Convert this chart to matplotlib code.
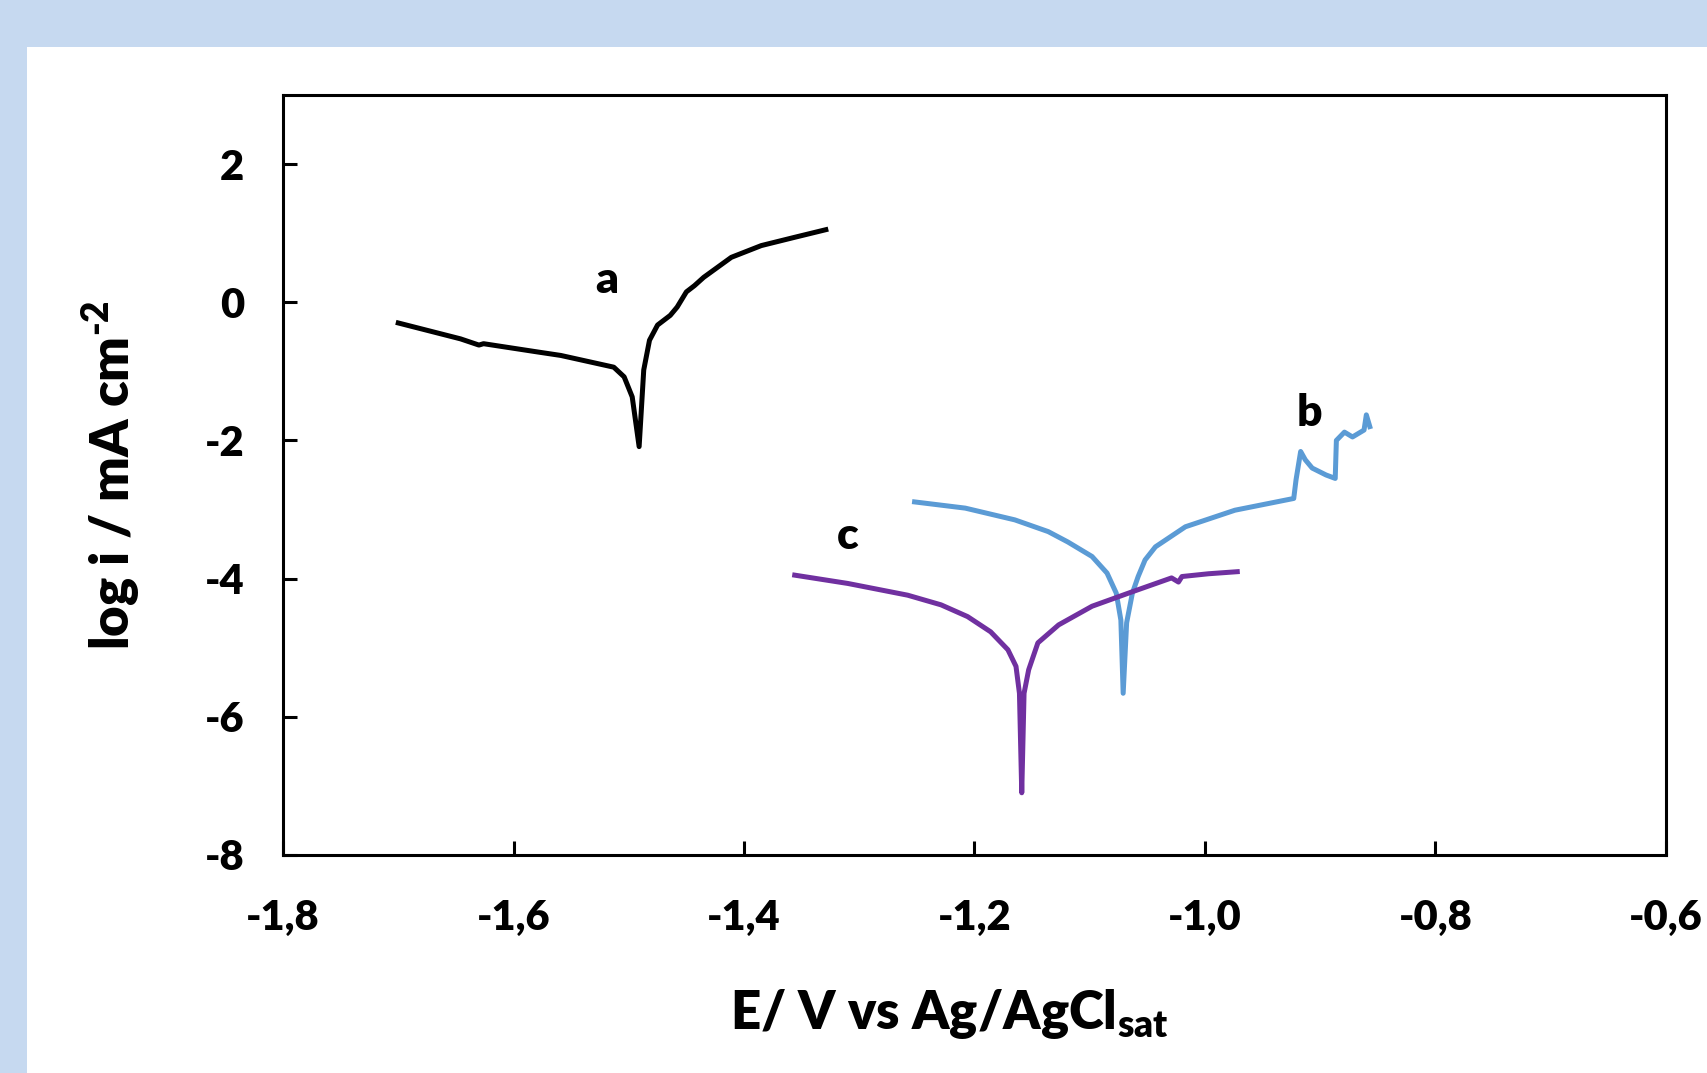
import matplotlib
matplotlib.use("Agg")
import matplotlib.pyplot as plt
from matplotlib.patches import Rectangle

plt.rcParams['font.family'] = ['Lato', 'DejaVu Sans']
plt.rcParams['font.weight'] = 'heavy'
plt.rcParams['axes.labelweight'] = 'heavy'
plt.rcParams['mathtext.fontset'] = 'custom'
plt.rcParams['mathtext.rm'] = 'Lato:heavy'
plt.rcParams['mathtext.bf'] = 'Lato:heavy'
plt.rcParams['mathtext.default'] = 'rm'

# curve a (black)
e_a = [-1.700, -1.646, -1.630, -1.626, -1.579, -1.559, -1.513, -1.504, -1.497,
       -1.491, -1.487, -1.482, -1.475, -1.464, -1.458, -1.450, -1.443, -1.435,
       -1.411, -1.385, -1.356, -1.329]
logi_a = [-0.30, -0.53, -0.62, -0.60, -0.72, -0.77, -0.94, -1.08, -1.37,
          -2.09, -0.98, -0.55, -0.33, -0.19, -0.07, 0.15, 0.24, 0.36,
          0.65, 0.82, 0.94, 1.05]

# curve b (blue)
e_b = [-1.252, -1.208, -1.165, -1.136, -1.119, -1.098, -1.085, -1.077, -1.073,
       -1.071, -1.068, -1.063, -1.058, -1.052, -1.043, -1.017, -0.974, -0.923,
       -0.921, -0.917, -0.913, -0.907, -0.895, -0.887, -0.886, -0.879, -0.872,
       -0.867, -0.862, -0.860, -0.857]
logi_b = [-2.89, -2.98, -3.15, -3.32, -3.47, -3.68, -3.92, -4.21, -4.60,
          -5.66, -4.64, -4.21, -3.97, -3.73, -3.54, -3.25, -3.01, -2.84,
          -2.57, -2.16, -2.28, -2.40, -2.50, -2.55, -2.00, -1.88, -1.95,
          -1.90, -1.85, -1.63, -1.80]

# curve c (purple)
e_c = [-1.356, -1.310, -1.258, -1.229, -1.206, -1.186, -1.171, -1.164, -1.161,
       -1.159, -1.157, -1.153, -1.145, -1.127, -1.098, -1.063, -1.029, -1.023,
       -1.020, -0.997, -0.972]
logi_c = [-3.95, -4.07, -4.24, -4.38, -4.55, -4.77, -5.03, -5.27, -5.66,
          -7.10, -5.66, -5.32, -4.93, -4.67, -4.40, -4.19, -3.99, -4.05,
          -3.97, -3.93, -3.90]

xticks = [-1.8, -1.6, -1.4, -1.2, -1.0, -0.8, -0.6]
xtick_labels = ['-1,8', '-1,6', '-1,4', '-1,2', '-1,0', '-0,8', '-0,6']
yticks = [2, 0, -2, -4, -6, -8]
ytick_labels = ['2', '0', '-2', '-4', '-6', '-8']

fig = plt.figure(figsize=(17.08, 10.73), dpi=100, facecolor='#C6D9F0')
fig.patches.append(Rectangle((27 / 1708, 0), 1, 1 - 47 / 1073,
                             transform=fig.transFigure, facecolor='white',
                             edgecolor='none', zorder=-10))

ax = fig.add_axes([0.1657, 0.2032, 0.8097, 0.7083], zorder=5)
ax.plot(e_a, logi_a, color='black', lw=3.6, solid_joinstyle='round')
ax.plot(e_b, logi_b, color='#5B9BD5', lw=3.6, solid_joinstyle='round')
ax.plot(e_c, logi_c, color='#7030A0', lw=3.6, solid_joinstyle='round')

ax.text(-1.519, 0.32, 'a', fontsize=32, ha='center', va='center')
ax.text(-0.909, -1.61, 'b', fontsize=32, ha='center', va='center')
ax.text(-1.310, -3.39, 'c', fontsize=32, ha='center', va='center')

ax.set_xlim(-1.8, -0.6)
ax.set_ylim(-8, 3)
ax.set_xticks(xticks)
ax.set_xticklabels(xtick_labels)
ax.set_yticks(yticks)
ax.set_yticklabels(ytick_labels)
ax.tick_params(direction='in', length=10, width=2.2, labelsize=30, pad=32,
               top=False, right=False)
ax.tick_params(axis='y', pad=28)
for s in ax.spines.values():
    s.set_linewidth(2.2)

ax.set_xlabel('E/ V vs Ag/AgCl$_{sat}$', fontsize=38, labelpad=36)
ax.xaxis.label.set_x(0.482)
ax.set_ylabel(r'log i / mA cm$^{\text{-2}}$', fontsize=38, labelpad=44)

fig.savefig('out.png', dpi=100, facecolor=fig.get_facecolor())
